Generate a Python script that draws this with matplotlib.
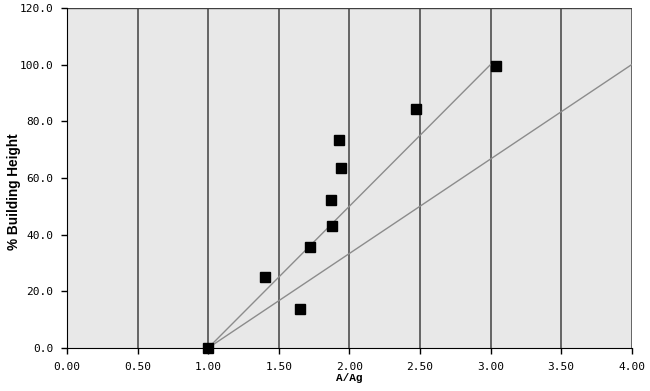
import matplotlib.pyplot as plt

# measured points
ratio = [1.00, 1.40, 1.65, 1.72, 1.87, 1.88, 1.93, 1.94, 2.47, 3.04]
height = [0.0, 25.0, 13.8, 35.6, 52.2, 43.0, 73.4, 63.5, 84.4, 99.6]

# reference lines
line_a_x = [1.0, 3.0]
line_a_y = [0.0, 100.0]
line_b_x = [1.0, 4.0]
line_b_y = [0.0, 100.0]

xticks = [0.0, 0.5, 1.0, 1.5, 2.0, 2.5, 3.0, 3.5, 4.0]
yticks = [0, 20, 40, 60, 80, 100, 120]

fig = plt.figure(figsize=(6.5, 3.91), dpi=100)
ax = fig.add_axes([0.103, 0.110, 0.869, 0.870])
ax.set_facecolor("#e8e8e8")

ax.plot(line_a_x, line_a_y, color="#8c8c8c", lw=1.0, zorder=2)
ax.plot(line_b_x, line_b_y, color="#8c8c8c", lw=1.0, zorder=2)
ax.plot(ratio, height, "s", color="black", ms=7, zorder=3, clip_on=False)

ax.set_xlim(0, 4)
ax.set_ylim(0, 120)
ax.set_xticks(xticks)
ax.set_yticks(yticks)
ax.set_xticklabels([f"{v:.2f}" for v in xticks], family="DejaVu Sans Mono", fontsize=8)
ax.set_yticklabels([f"{v:.1f}" for v in yticks], family="DejaVu Sans Mono", fontsize=8)
ax.xaxis.grid(True, color="#404040", lw=1.1)
ax.set_axisbelow(True)
ax.tick_params(length=4, width=1, color="black", pad=6)

for side in ["top", "right"]:
    ax.spines[side].set_visible(False)
ax.spines["left"].set_color("black")
ax.spines["bottom"].set_color("black")
ax.axhline(120, color="#404040", lw=1.0, zorder=1)

ax.set_xlabel("A/Ag", fontsize=8, fontweight="bold", family="Liberation Mono", labelpad=1)
ax.set_ylabel("% Building Height", fontsize=9.8, fontweight="bold", family="Liberation Sans")
ax.yaxis.set_label_coords(-0.082, 0.46)

fig.savefig("out.png", dpi=100)
